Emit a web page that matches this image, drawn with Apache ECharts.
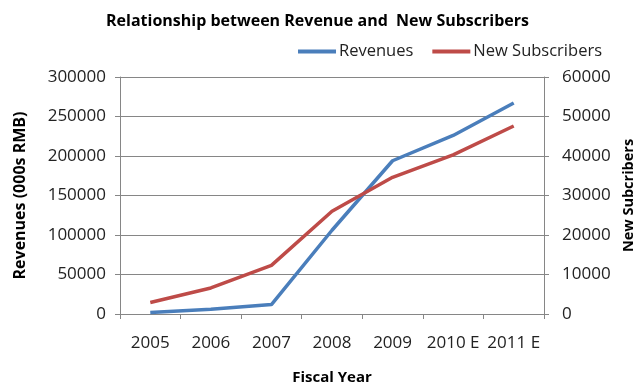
<!DOCTYPE html>
<html>
<head>
<meta charset="utf-8">
<script src="https://cdn.jsdelivr.net/npm/echarts@6/dist/echarts.min.js"></script>
<style>
html,body{margin:0;padding:0;background:#fff;}
#chart{width:635px;height:387px;}
</style>
</head>
<body>
<div id="chart"></div>
<script>
var years = ['2005', '2006', '2007', '2008', '2009', '2010 E', '2011 E'];
var revenues = [2000, 6000, 12000, 106000, 194000, 226000, 267000];
var newSubscribers = [2900, 6600, 12300, 26000, 34600, 40300, 47600];

var font = '"Open Sans", "Noto Sans", sans-serif';
var chart = echarts.init(document.getElementById('chart'));
chart.setOption({
    animation: false,
    title: {
        text: 'Relationship between Revenue and  New Subscribers',
        left: 'center',
        top: 8,
        textStyle: { fontFamily: font, fontSize: 16, fontWeight: 'bold', color: '#000' }
    },
    legend: {
        right: 28,
        top: 38,
        itemWidth: 38,
        itemHeight: 4,
        itemGap: 19,
        icon: 'rect',
        textStyle: { fontFamily: font, fontSize: 16.5, color: '#222', padding: [0, 0, 0, -2] },
        data: ['Revenues', 'New Subscribers']
    },
    grid: { left: 120, right: 91, top: 77, bottom: 73, containLabel: false, outerBoundsMode: 'none' },
    xAxis: {
        type: 'category',
        data: years,
        boundaryGap: true,
        name: 'Fiscal Year',
        nameLocation: 'middle',
        nameGap: 56,
        nameTextStyle: { fontFamily: font, fontSize: 15, fontWeight: 'bold', color: '#000' },
        axisLine: { lineStyle: { color: '#868686' } },
        axisTick: { show: true, alignWithLabel: false, length: 5, lineStyle: { color: '#868686' } },
        axisLabel: { interval: 0, fontFamily: font, fontSize: 17, color: '#222', margin: 21 }
    },
    yAxis: [{
        type: 'value',
        min: 0,
        max: 300000,
        interval: 50000,
        name: 'Revenues (000s RMB)',
        nameLocation: 'middle',
        nameGap: 92,
        nameTextStyle: { fontFamily: font, fontSize: 16, fontWeight: 'bold', color: '#000' },
        axisLine: { show: true, lineStyle: { color: '#868686' } },
        axisTick: { show: true, length: 5, lineStyle: { color: '#868686' } },
        axisLabel: { fontFamily: font, fontSize: 17, color: '#222', margin: 14, formatter: function (v) { return String(v); } },
        splitLine: { lineStyle: { color: '#868686' } }
    }, {
        type: 'value',
        min: 0,
        max: 60000,
        interval: 10000,
        name: 'New Subcribers',
        nameLocation: 'middle',
        nameGap: 74,
        nameTextStyle: { fontFamily: font, fontSize: 14.5, fontWeight: 'bold', color: '#000' },
        axisLine: { show: true, lineStyle: { color: '#868686' } },
        axisTick: { show: true, length: 5, lineStyle: { color: '#868686' } },
        axisLabel: { fontFamily: font, fontSize: 17, color: '#222', margin: 18, formatter: function (v) { return String(v); } },
        splitLine: { show: false }
    }],
    series: [{
        name: 'Revenues',
        type: 'line',
        yAxisIndex: 0,
        data: revenues,
        symbol: 'none',
        color: '#4A7EBB',
        lineStyle: { width: 3.5, color: '#4A7EBB' }
    }, {
        name: 'New Subscribers',
        type: 'line',
        yAxisIndex: 1,
        data: newSubscribers,
        symbol: 'none',
        color: '#BE4B48',
        lineStyle: { width: 3.5, color: '#BE4B48' }
    }]
});
</script>
</body>
</html>
